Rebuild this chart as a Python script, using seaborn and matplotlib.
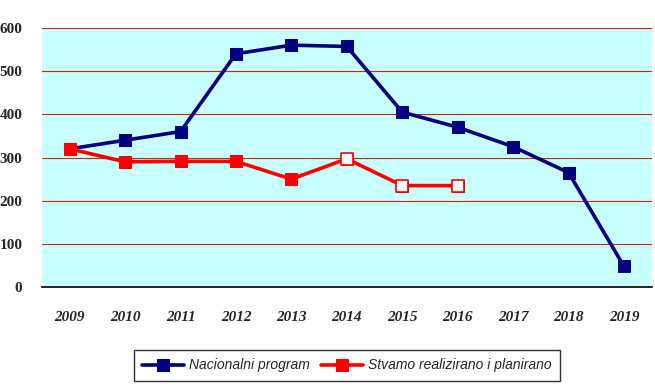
import seaborn as sns
import matplotlib.pyplot as plt
from matplotlib.ticker import FixedLocator
import pandas as pd

years = [2009, 2010, 2011, 2012, 2013, 2014, 2015, 2016, 2017, 2018, 2019]
nacionalni = [320, 340, 360, 540, 560, 557, 405, 370, 325, 265, 48]
stvarno_years = [2009, 2010, 2011, 2012, 2013, 2014, 2015, 2016]
stvarno = [320, 290, 291, 291, 250, 297, 235, 235]
planirano_years = [2014, 2015, 2016]
planirano = [297, 235, 235]

navy = "#000080"
red = "#ff0000"

sns.set_style("white")

fig = plt.figure(figsize=(6.55, 3.87), dpi=100, facecolor="#fdfefd")
ax = fig.add_axes([0.064, 0.258, 0.931, 0.670])
ax.set_facecolor("#c8ffff")

df1 = pd.DataFrame({"year": years, "val": nacionalni})
df2 = pd.DataFrame({"year": stvarno_years, "val": stvarno})
df3 = pd.DataFrame({"year": planirano_years, "val": planirano})

sns.lineplot(data=df1, x="year", y="val", ax=ax, color=navy, lw=2.6,
             marker="s", markersize=8.5, markeredgecolor=navy,
             label="Nacionalni program", zorder=3)
sns.lineplot(data=df2, x="year", y="val", ax=ax, color=red, lw=2.6,
             marker="s", markersize=8.5, markeredgecolor=red,
             label="Stvamo realizirano i planirano", zorder=4)
sns.scatterplot(data=df3, x="year", y="val", ax=ax, color="white",
                edgecolor=red, linewidth=1.2, marker="s", s=68, zorder=5,
                legend=False)

ax.set_xlim(2008.5, 2019.5)
ax.set_ylim(0, 600)
ax.set_yticks(range(0, 601, 100))
ax.yaxis.grid(True, color="#e02000", lw=0.8)
ax.set_axisbelow(True)
ax.set_xticks(years)
ax.xaxis.set_minor_locator(FixedLocator([y + 0.5 for y in [2008] + years]))
ax.tick_params(axis="x", which="major", length=0, pad=17)
ax.tick_params(axis="x", which="minor", length=5, width=1, color="black", direction="out")
ax.tick_params(axis="y", length=0, pad=14)
ax.set_xlabel("")
ax.set_ylabel("")

for s in ["top", "right", "left"]:
    ax.spines[s].set_visible(False)
ax.spines["bottom"].set_color("black")
ax.spines["bottom"].set_linewidth(1.2)

for t in ax.get_xticklabels():
    t.set_fontfamily("Liberation Serif")
    t.set_fontweight("bold")
    t.set_fontstyle("italic")
    t.set_fontsize(11)
for t in ax.get_yticklabels():
    t.set_fontfamily("Liberation Serif")
    t.set_fontweight("bold")
    t.set_fontsize(11)

leg = ax.legend(loc="upper center", bbox_to_anchor=(0.5, -0.243), ncol=2,
                frameon=True, fancybox=False, edgecolor="black",
                prop={"family": "Liberation Sans", "style": "italic", "size": 10},
                handlelength=3.0, handletextpad=0.4, borderpad=0.6,
                columnspacing=0.8, borderaxespad=0)
leg.get_frame().set_linewidth(1.0)
leg.get_frame().set_facecolor("white")

fig.savefig("out.png", dpi=100, facecolor=fig.get_facecolor())
